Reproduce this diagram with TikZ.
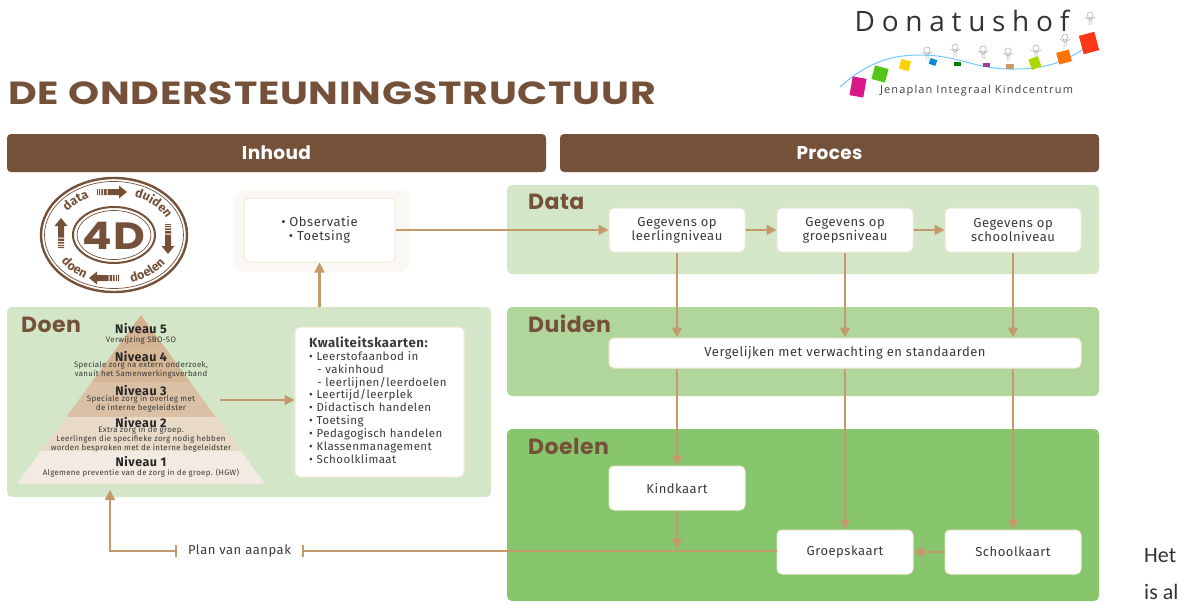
\documentclass[tikz,border=0pt]{standalone}
\usepackage{fontspec}
\setmainfont[LetterSpace=4]{Fira Sans}
\newfontfamily\titlefont[LetterSpace=2]{Poppins}
\newfontfamily\logofont[LetterSpace=24]{Open Sans}
\newfontfamily\sidefont{Carlito}
\usetikzlibrary{arrows.meta,decorations.text}
\definecolor{headbrown}{HTML}{76513A}
\definecolor{arrowtan}{HTML}{C49A6C}
\definecolor{paleleaf}{HTML}{D3E6C8}
\definecolor{midleaf}{HTML}{B0D69C}
\definecolor{deepleaf}{HTML}{88C66E}
\definecolor{boxedge}{HTML}{F3E7D9}
\definecolor{inkgrey}{HTML}{3A3A3A}
\tikzset{
  panel/.style={fill=#1, rounded corners=5pt, inner sep=0pt},
  headbox/.style={fill=headbrown, text=white, rounded corners=4pt, font=\titlefont\bfseries\fontsize{18.5}{18.5}\selectfont,
    minimum width=539pt, minimum height=38pt, inner sep=0pt},
  cardbox/.style={draw=boxedge, line width=1pt, fill=white, rounded corners=5pt, inner sep=0pt, align=center,
    text=inkgrey, font=\fontsize{13}{14}\selectfont},
  panelname/.style={anchor=west, text=headbrown, inner sep=0pt, font=\titlefont\bfseries\fontsize{22}{22}\selectfont},
  flow/.style={draw=arrowtan, line width=2.2pt, -{Triangle[length=10pt,width=10pt]}},
  flowplain/.style={draw=arrowtan, line width=2.2pt},
  levelhead/.style={inner sep=0pt, text=black!85, font=\bfseries\fontsize{12.5}{12.5}\selectfont},
  leveltext/.style={inner sep=0pt, align=center, text=inkgrey, font=\fontsize{7.9}{7.2}\selectfont},
  paper/.style={fill=#1, inner sep=0pt}
}
\newcommand{\ringword}[5]{%
  \path[decorate, decoration={text along path, text align=center, text color=headbrown,
      text={|\bfseries\fontsize{12.5}{12.5}\selectfont|#5}}]
    ({114+#3*cos(#1)},{235+#4*sin(#1)}) arc[start angle=#1, end angle=#2, x radius=#3, y radius=#4];}
\newcommand{\ringarrow}[3]{%
  \begin{scope}[shift={(#1,#2)}, rotate=#3, fill=headbrown]
    \fill (-15,-3) rectangle (-14,3) (-13,-3) rectangle (-11.8,3) (-10.6,-3) rectangle (-9,3)
      (-8,-3) rectangle (-5.5,3);
    \fill (-4.5,-3) -- (7,-3) -- (7,-6.5) -- (15,0) -- (7,6.5) -- (7,3) -- (-4.5,3) -- cycle;
  \end{scope}}
\newcommand{\kid}[2]{%
  \begin{scope}[shift={(#1,#2)}, draw=black!35, line width=.5pt]
    \draw (0,-5) circle (3);
    \draw (-1,-2) -- (-1,5) (1,-2) -- (1,5) (-5,-3) -- (0,0) -- (5,-3);
  \end{scope}}
\begin{document}
\begin{tikzpicture}[x=1pt,y=-1pt]
  \useasboundingbox (0,0) rectangle (1197,603);
  % logo
  \node[inner sep=0pt, text=black!80, font=\logofont\fontsize{28}{28}\selectfont] (logoname) at (962,21) {Donatushof};
  \draw[draw=blue!40!cyan!55!white, line width=1pt] (840,87) .. controls (870,60) and (895,55) .. (920,55)
    .. controls (960,55) and (975,70) .. (1015,69) .. controls (1040,69) and (1060,65) .. (1085,48);
  \foreach \kx/\ky in {927/55,955/52,983/54,1008/56,1036/53,1065/42,1090/20} {\kid{\kx}{\ky}}
  \node[paper=magenta!90!black, minimum width=14pt, minimum height=19pt, rotate=-10] (paper1) at (858,87) {};
  \node[paper=green!50!olive!90!white, minimum width=14pt, minimum height=14pt, rotate=-15] (paper2) at (880,74) {};
  \node[paper=yellow!70!orange, minimum width=10pt, minimum height=10pt, rotate=-15] (paper3) at (905,65) {};
  \node[paper=cyan!70!blue, minimum width=7pt, minimum height=6pt, rotate=-20] (paper4) at (933,62) {};
  \node[paper=green!50!black, minimum width=7pt, minimum height=4pt] (paper5) at (957,64) {};
  \node[paper=violet!75!white, minimum width=7pt, minimum height=4pt] (paper6) at (986,65) {};
  \node[paper=brown!80!white, minimum width=8pt, minimum height=5pt] (paper7) at (1010,66) {};
  \node[paper=lime!70!olive, minimum width=10pt, minimum height=11pt, rotate=20] (paper8) at (1035,63) {};
  \node[paper=orange!90!red, minimum width=13pt, minimum height=12pt, rotate=15] (paper9) at (1064,57) {};
  \node[paper=red!75!orange!90!white, minimum width=16pt, minimum height=19pt, rotate=15] (paper10) at (1089,43) {};
  \node[inner sep=0pt, text=black!75, font=\logofont\fontsize{11}{11}\selectfont] (logosub) at (976.5,91)
    {\addfontfeature{LetterSpace=10.5}Jenaplan Integraal Kindcentrum};
  % title and headers
  \node[anchor=west, inner sep=0pt, xscale=1.235, text=headbrown, font=\titlefont\bfseries\fontsize{32}{32}\selectfont] (title) at (8,93)
    {DE ONDERSTEUNINGSTRUCTUUR};
  \node[headbox] (inhoud) at (276.5,153) {Inhoud};
  \node[headbox] (proces) at (829.5,153) {Proces};
  % panels
  \node[panel=paleleaf, minimum width=592pt, minimum height=89pt] (data) at (803,229.5) {};
  \node[panel=midleaf, minimum width=592pt, minimum height=89pt] (duiden) at (803,351.5) {};
  \node[panel=deepleaf, minimum width=592pt, minimum height=172pt] (doelen) at (803,515) {};
  \node[panel=paleleaf, minimum width=484pt, minimum height=190pt] (doen) at (249,402) {};
  \node[panelname] (dataname) at (528,202) {Data};
  \node[panelname] (duidenname) at (528,324) {Duiden};
  \node[panelname] (doelenname) at (528,446) {Doelen};
  \node[panelname] (doenname) at (21,325) {Doen};
  % 4D badge
  \draw[headbrown, line width=2.4pt] (114,235) ellipse [x radius=73, y radius=57];
  \draw[headbrown, line width=.7pt] (114,235) ellipse [x radius=69.5, y radius=53.5];
  \draw[headbrown, line width=2pt] (114,235) ellipse [x radius=41, y radius=28];
  \draw[headbrown, line width=.7pt] (114,235) ellipse [x radius=37, y radius=24.5];
  \node[inner sep=0pt, xscale=1.15, text=headbrown, font=\titlefont\bfseries\fontsize{38}{38}\selectfont] (fourd) at (114,236) {4D};
  \ringword{198}{258}{57}{41}{data}
  \ringword{283}{347}{57}{41}{duiden}
  \ringword{85}{22}{63}{49}{doelen}
  \ringword{158}{108}{63}{49}{doen}
  \ringarrow{112}{192}{0}
  \ringarrow{168}{239}{-90}
  \ringarrow{104}{278}{180}
  \ringarrow{61}{233}{90}
  % pyramid
  \fill[fill=arrowtan!75!white] (141,315) -- (164.5,347) -- (117.5,347) -- cycle;
  \fill[fill=arrowtan!72!white] (117.5,347) -- (164.5,347) -- (190.2,382) -- (91.8,382) -- cycle;
  \fill[fill=arrowtan!62!white] (91.8,382) -- (190.2,382) -- (215.8,417) -- (66.2,417) -- cycle;
  \fill[fill=arrowtan!38!white] (66.2,417) -- (215.8,417) -- (240.8,451) -- (41.2,451) -- cycle;
  \fill[fill=arrowtan!20!white] (41.2,451) -- (240.8,451) -- (265,484) -- (17,484) -- cycle;
  \node[levelhead] (level5) at (141,329) {Niveau 5};
  \node[leveltext] (level5t) at (141,340) {Verwijzing SBO-SO};
  \node[levelhead] (level4) at (141,357) {Niveau 4};
  \node[leveltext] (level4t) at (141,370) {Speciale zorg na extern onderzoek,\\vanuit het Samenwerkingsverband};
  \node[levelhead] (level3) at (141,391) {Niveau 3};
  \node[leveltext] (level3t) at (141,404) {Speciale zorg in overleg met\\de interne begeleidster};
  \node[levelhead] (level2) at (141,423) {Niveau 2};
  \node[leveltext] (level2t) at (141,439) {Extra zorg in de groep.\\Leerlingen die specifieke zorg nodig hebben\\worden besproken met de interne begeleidster};
  \node[levelhead] (level1) at (141,462) {Niveau 1};
  \node[leveltext] (level1t) at (141,473) {Algemene preventie van de zorg in de groep. (HGW)};
  \coordinate (pyrout) at (220,400);
  % cards
  \fill[boxedge!35!white, rounded corners=10pt] (234,190) rectangle (410,272);
  \node[cardbox, minimum width=151pt, minimum height=64pt] (meting) at (319.5,230) {\textbullet\ Observatie\\\textbullet\ Toetsing};
  \node[cardbox, minimum width=169pt, minimum height=150pt, text width=141pt, align=left, font=\fontsize{11.5}{12.9}\selectfont] (kwaliteit) at (379.5,402)
    {{\bfseries\fontsize{13.2}{12.9}\selectfont Kwaliteitskaarten:}\\
     \textbullet\ Leerstofaanbod in\\
     \hspace*{8pt}- vakinhoud\\
     \hspace*{8pt}- leerlijnen/leerdoelen\\
     \textbullet\ Leertijd/leerplek\\
     \textbullet\ Didactisch handelen\\
     \textbullet\ Toetsing\\
     \textbullet\ Pedagogisch handelen\\
     \textbullet\ Klassenmanagement\\
     \textbullet\ Schoolklimaat\rule[-4pt]{0pt}{0pt}};
  \node[cardbox, minimum width=136pt, minimum height=44pt] (gleerling) at (677,230) {Gegevens op\\leerlingniveau};
  \node[cardbox, minimum width=136pt, minimum height=44pt] (ggroep) at (845,230) {Gegevens op\\groepsniveau};
  \node[cardbox, minimum width=136pt, minimum height=44pt] (gschool) at (1013,230) {Gegevens op\\schoolniveau};
  \node[cardbox, minimum width=472pt, minimum height=30pt] (vergelijk) at (845,353) {Vergelijken met verwachting en standaarden};
  \node[cardbox, minimum width=136pt, minimum height=44pt] (kind) at (677,488) {Kindkaart};
  \node[cardbox, minimum width=136pt, minimum height=44pt] (groep) at (845,552) {Groepskaart};
  \node[cardbox, minimum width=136pt, minimum height=44pt] (school) at (1013,552) {Schoolkaart};
  \node[inner sep=0pt, minimum width=125pt, minimum height=12pt, text=inkgrey, font=\fontsize{13}{14}\selectfont] (plan) at (239.5,551) {Plan van aanpak};
  \coordinate (kindend) at (677,549);
  \coordinate (planup) at (110,490);
  \node[anchor=west, inner sep=0pt, text=black!80, font=\sidefont\fontsize{22}{22}\selectfont] (het) at (1144,556) {Het};
  \node[anchor=west, inner sep=0pt, text=black!80, font=\sidefont\fontsize{22}{22}\selectfont] (isal) at (1144,592) {is al};
  % connectors
  \begin{scope}[flow]
    \draw (doen.north -| meting.south) -- (meting.south);
    \draw (pyrout) -- (kwaliteit.west |- pyrout);
    \draw (meting.east) to (gleerling.west);
    \draw (gleerling.east) to (ggroep.west);
    \draw (ggroep.east) to (gschool.west);
    \draw (gleerling.south) -- (gleerling.south |- vergelijk.north);
    \draw (ggroep.south) -- (ggroep.south |- vergelijk.north);
    \draw (gschool.south) -- (gschool.south |- vergelijk.north);
    \draw (kind.north |- vergelijk.south) -- (kind.north);
    \draw (groep.north |- vergelijk.south) -- (groep.north);
    \draw (school.north |- vergelijk.south) -- (school.north);
    \draw (kind.south) -- (kindend);
    \draw (school.west) to (groep.east);
  \end{scope}
  \draw[flowplain, -{Bar[width=12pt]}] (groep.west |- plan.east) -- (plan.east);
  \draw[flowplain, {Bar[width=12pt]}-{Triangle[length=10pt,width=10pt]}] (plan.west) -| (planup);
\end{tikzpicture}
\end{document}
